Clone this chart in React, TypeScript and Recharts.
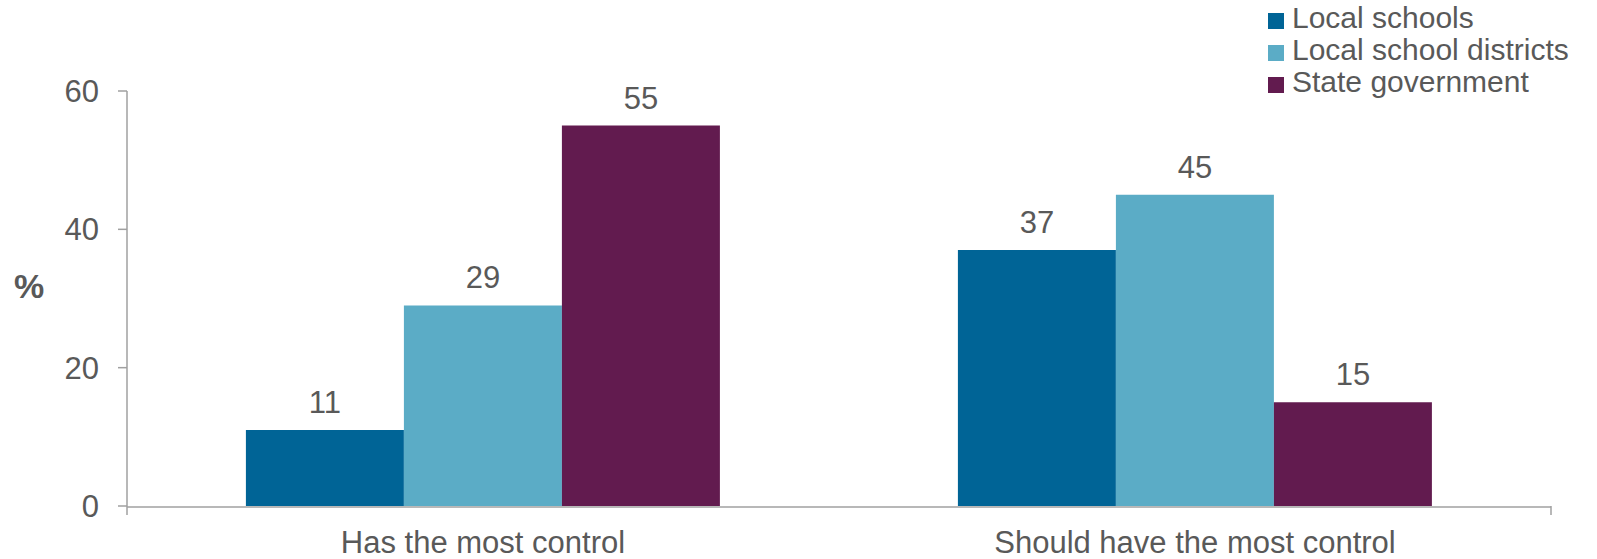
import React from 'react';
import { BarChart, Bar, XAxis, YAxis, LabelList, Legend } from 'recharts';

const categories = ['Has the most control', 'Should have the most control'];
const localSchools = [11, 37];
const localDistricts = [29, 45];
const stateGovernment = [55, 15];
const yTicks = [0, 20, 40, 60];
const edgeTicks = [0, 1, 2];

const seriesNames = ['Local schools', 'Local school districts', 'State government'];
const seriesColors = ['#006496', '#5BACC6', '#621B4F'];

const data = categories.map((name, i) => ({
    name,
    s0: localSchools[i],
    s1: localDistricts[i],
    s2: stateGovernment[i],
}));

const FONT = '"Liberation Sans", Arial, sans-serif';
const TEXT = '#595959';
const AXIS = '#A0A0A0';

// keep legend rows in series order (recharts sorts them by name otherwise)
const LegendBox = (props: any) => {
    const items = [...(props.payload || [])].sort(
        (a: any, b: any) => seriesNames.indexOf(a.value) - seriesNames.indexOf(b.value)
    );
    return (
        <div style={{ fontFamily: FONT, fontSize: 30, color: TEXT, lineHeight: '32px', whiteSpace: 'nowrap' }}>
            {items.map((p: any) => (
                <div key={p.value} style={{ display: 'flex', alignItems: 'center' }}>
                    <span style={{ display: 'inline-block', width: 16, height: 16, background: p.color, marginRight: 8, position: 'relative', top: 3 }} />
                    {p.value}
                </div>
            ))}
        </div>
    );
};

const NoLabel = () => <g />;

export default function App() {
    return (
        <div style={{ position: 'absolute', left: 0, top: 0, background: '#fff' }}>
            <BarChart
                width={1597}
                height={559}
                data={data}
                margin={{ top: 91, right: 46, left: 0, bottom: 0 }}
                barCategoryGap="16.7%"
                barGap={0}
            >
                {/* boundary ticks between categories, excel style */}
                <XAxis
                    xAxisId="edge"
                    type="number"
                    domain={[0, 2]}
                    ticks={edgeTicks}
                    allowDataOverflow
                    height={1}
                    tick={<NoLabel />}
                    axisLine={false}
                    tickSize={9}
                    tickLine={{ stroke: AXIS, strokeWidth: 1.5 }}
                />
                <XAxis
                    xAxisId="main"
                    dataKey="name"
                    height={52}
                    tickLine={false}
                    tickSize={8}
                    tickMargin={16}
                    axisLine={{ stroke: AXIS, strokeWidth: 1.5 }}
                    tick={{ fill: TEXT, fontSize: 31, fontFamily: FONT }}
                />
                <YAxis
                    width={127}
                    domain={[0, 60]}
                    ticks={yTicks}
                    tickSize={9}
                    tickMargin={19}
                    axisLine={{ stroke: AXIS, strokeWidth: 1.5 }}
                    tickLine={{ stroke: AXIS, strokeWidth: 1.5 }}
                    tick={{ fill: TEXT, fontSize: 31, fontFamily: FONT }}
                    label={{ value: '%', position: 'insideLeft', offset: 14, dy: -13, fill: TEXT, fontSize: 34, fontWeight: 'bold', fontFamily: FONT }}
                />
                <Legend
                    layout="horizontal"
                    verticalAlign="middle"
                    align="center"
                    content={<LegendBox />}
                    wrapperStyle={{ top: 2, left: 1268, width: 'auto', height: 'auto' }}
                />
                {['s0', 's1', 's2'].map((key, i) => (
                    <Bar key={key} xAxisId="main" dataKey={key} name={seriesNames[i]} fill={seriesColors[i]} isAnimationActive={false}>
                        <LabelList dataKey={key} position="top" offset={17} fill={TEXT} fontSize={31} fontFamily={FONT} />
                    </Bar>
                ))}
            </BarChart>
        </div>
    );
}
